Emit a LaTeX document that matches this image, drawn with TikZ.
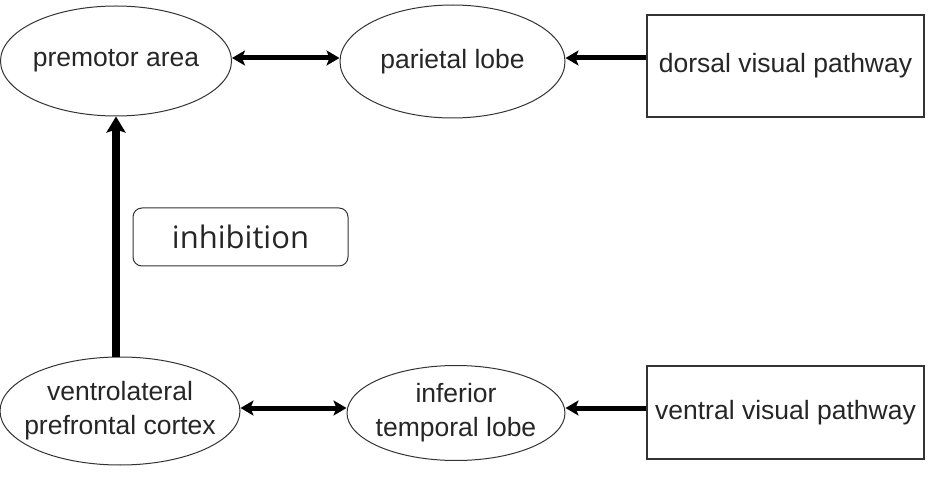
\documentclass[tikz,border=0pt]{standalone}
\usepackage{fontspec}
\setmainfont{Liberation Sans}
\newfontfamily\inhfont{Open Sans}
\usetikzlibrary{shapes.geometric,arrows.meta}
\begin{document}
\begin{tikzpicture}[x=1pt,y=-1pt,
  lbl/.style={font=\fontsize{26.5}{34}\selectfont, align=center, text=black!85},
  oval/.style={lbl, ellipse, draw=black!80, line width=1pt, inner xsep=-30pt, inner ysep=-20pt},
  boxnode/.style={lbl, rectangle, draw=black!80, line width=1.3pt, inner sep=0pt},
  inhbox/.style={rectangle, rounded corners=9pt, draw=black!80, line width=1pt, inner sep=0pt,
     font=\inhfont\fontsize{31}{36}\selectfont, text=black!85},
  tip/.style={Stealth[length=13pt,width=15pt,inset=3pt]},
  harrow/.style={line width=5pt, -{Stealth[length=13pt,width=15pt,inset=3pt]}},
  harrow2/.style={line width=5pt, {Stealth[length=13pt,width=15pt,inset=3pt]}-{Stealth[length=13pt,width=15pt,inset=3pt]}},
  varrow/.style={line width=7.5pt, -{Stealth[length=16pt,width=19pt,inset=3pt]}}
]
\useasboundingbox (0,0) rectangle (935,481);
\node[oval, minimum width=231pt, minimum height=110pt] (pm) at (116,61) {premotor area};
\node[oval, minimum width=225pt, minimum height=113pt] (par) at (452.5,61.5) {parietal lobe};
\node[boxnode, minimum width=277pt, minimum height=102pt] (dvp) at (785.5,66) {dorsal visual pathway};
\node[oval, minimum width=240pt, minimum height=108pt] (vl) at (120,411) {ventrolateral\\prefrontal cortex};
\node[oval, minimum width=218pt, minimum height=95pt] (it) at (456,413) {inferior\\temporal lobe};
\node[boxnode, minimum width=277pt, minimum height=93pt] (vvp) at (785.5,412.5) {ventral visual pathway};
\node[inhbox, minimum width=215pt, minimum height=58pt] (inh) at (240.5,237) {inhibition};

\coordinate (a1) at (pm.east |- 0,58);
\coordinate (a2) at (par.west |- 0,58);
\coordinate (b2) at (par.east |- 0,58);
\coordinate (b1) at (dvp.west |- 0,58);
\coordinate (c1) at (vl.east |- 0,408);
\coordinate (c2) at (it.west |- 0,408);
\coordinate (d2) at (it.east |- 0,408);
\coordinate (d1) at (vvp.west |- 0,408);
\draw[harrow2] (a1) -- (a2);
\draw[harrow] (b1) -- (b2);
\draw[varrow] (vl.north -| pm.south) -- (pm.south);
\draw[harrow2] (c1) -- (c2);
\draw[harrow] (d1) -- (d2);
\end{tikzpicture}
\end{document}
